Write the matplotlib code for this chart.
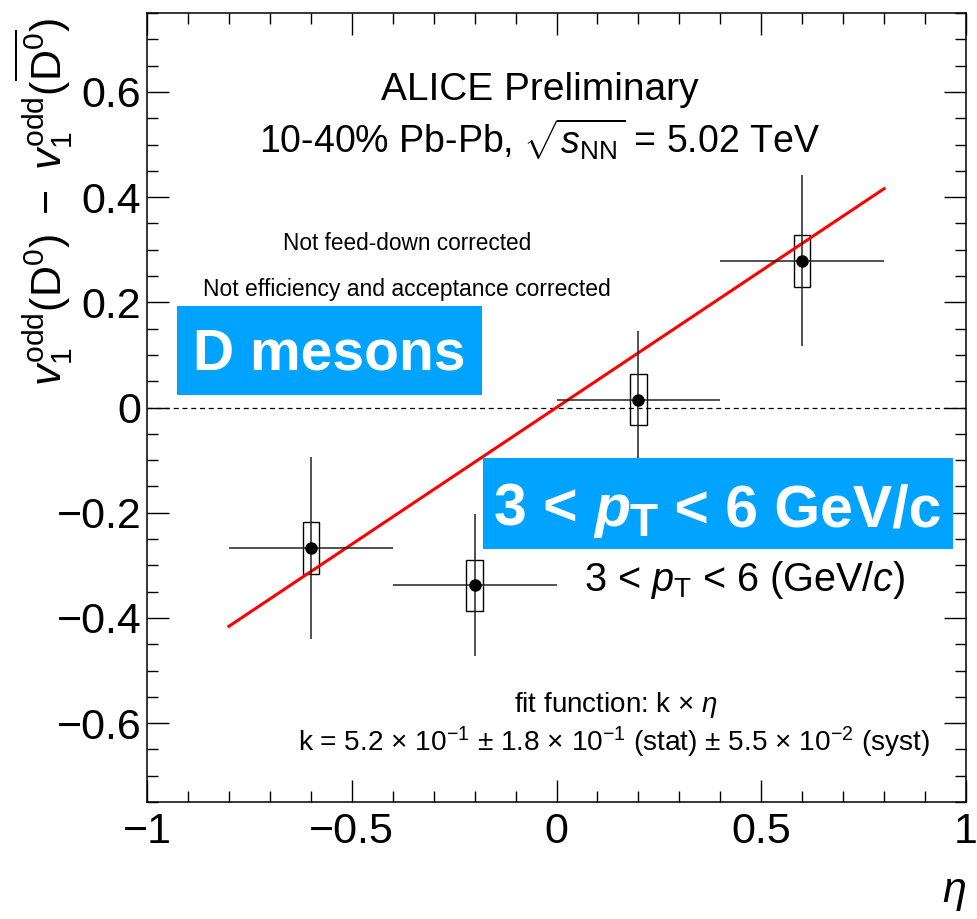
"""
D-meson directed flow difference v1(D0) - v1(D0bar) versus eta, ALICE style.
"""
import matplotlib
import matplotlib.pyplot as plt
from matplotlib.patches import Rectangle
import numpy as np

matplotlib.use('Agg')

FONT = 'Liberation Sans'
plt.rcParams['font.family'] = [FONT, 'DejaVu Sans']
plt.rcParams['mathtext.fontset'] = 'custom'
plt.rcParams['mathtext.rm'] = FONT
plt.rcParams['mathtext.it'] = FONT + ':italic'
plt.rcParams['mathtext.bf'] = FONT + ':bold'
plt.rcParams['axes.linewidth'] = 1.1

BLUE = '#00A3FF'

# measured points
eta = [-0.6, -0.2, 0.2, 0.6]
eta_err = [0.2, 0.2, 0.2, 0.2]
dv1 = [-0.267, -0.338, 0.015, 0.279]
dv1_stat = [0.173, 0.135, 0.131, 0.163]
dv1_syst = [0.049, 0.049, 0.049, 0.049]
box_half_width = 0.02

# linear fit k * eta
k_fit = 0.52
fit_range = [-0.8, 0.8]

x_ticks = [-1, -0.5, 0, 0.5, 1]
x_ticklabels = ['\u22121', '\u22120.5', '0', '0.5', '1']
y_ticks = [-0.6, -0.4, -0.2, 0, 0.2, 0.4, 0.6]
y_ticklabels = ['\u22120.6', '\u22120.4', '\u22120.2', '0', '0.2', '0.4', '0.6']

W, H = 977, 919
fig = plt.figure(figsize=(W / 100, H / 100), dpi=100)


def fx(px):
    return px / W


def fy(py):
    return 1 - py / H


ax = fig.add_axes([fx(147), fy(802), fx(966) - fx(147), fy(13) - fy(802)])
ax.set_xlim(-1, 1)
ax.set_ylim(-0.75, 0.75)

# zero reference
ax.axhline(0, color='black', lw=0.9, ls=(0, (4, 3)), zorder=1)

# fit line
xf = np.array(fit_range)
ax.plot(xf, k_fit * xf, color='#FF0000', lw=2.2, zorder=3)

# systematic boxes
for x, y, s in zip(eta, dv1, dv1_syst):
    ax.add_patch(Rectangle((x - box_half_width, y - s), 2 * box_half_width, 2 * s,
                           fill=False, edgecolor='black', lw=1.0, zorder=2))

# statistical errors and points
ax.errorbar(eta, dv1, xerr=eta_err, yerr=dv1_stat, fmt='o', color='black',
            ecolor='#222222', elinewidth=1.1, capsize=0, markersize=8, zorder=4)

ax.set_xticks(x_ticks)
ax.set_xticklabels(x_ticklabels)
ax.set_yticks(y_ticks)
ax.set_yticklabels(y_ticklabels)
ax.set_xticks(np.arange(-1, 1.001, 0.1), minor=True)
ax.set_yticks(np.arange(-0.75, 0.751, 0.05), minor=True)
ax.tick_params(which='both', direction='in', top=True, right=True, width=1.0)
ax.tick_params(which='major', length=16)
ax.tick_params(which='minor', length=8)
ax.tick_params(axis='x', which='major', labelsize=31, pad=7)
ax.tick_params(axis='y', which='major', labelsize=31, pad=4)

# axis titles
fig.text(fx(44), fy(202), r'$v_{1}^{\mathrm{odd}}(\mathrm{D}^{0})\ -\ v_{1}^{\mathrm{odd}}(\overline{\mathrm{D}^{0}})$',
         rotation=90, ha='center', va='center', fontsize=31)
fig.text(fx(966), fy(893), r'$\eta$', ha='right', va='center', fontsize=31)

# headers
fig.text(fx(540), fy(90), 'ALICE Preliminary', ha='center', va='center', fontsize=28)
fig.text(fx(540), fy(140), r'10-40% Pb-Pb, $\sqrt{s_{\mathrm{NN}}}$ = 5.02 TeV',
         ha='center', va='center', fontsize=27)
fig.text(fx(407), fy(243), 'Not feed-down corrected', ha='center', va='center', fontsize=16.3)
fig.text(fx(407), fy(289), 'Not efficiency and acceptance corrected',
         ha='center', va='center', fontsize=16.5)

# kinematic range and fit result
fig.text(fx(745), fy(580), r'3 < $p_{\mathrm{T}}$ < 6 (GeV/$c$)',
         ha='center', va='center', fontsize=28.5)
fig.text(fx(616), fy(705), r'fit function: k $\times$ $\eta$',
         ha='center', va='center', fontsize=20)
fig.text(fx(614), fy(742),
         r'k = 5.2 $\times$ 10$^{-1}$ $\pm$ 1.8 $\times$ 10$^{-1}$ (stat) $\pm$ 5.5 $\times$ 10$^{-2}$ (syst)',
         ha='center', va='center', fontsize=20.2)

# blue labels, drawn on top of the frame
ax.add_patch(Rectangle((fx(177), fy(395)), fx(482) - fx(177), fy(306) - fy(395),
                       transform=fig.transFigure, facecolor=BLUE, edgecolor='none',
                       zorder=5, clip_on=False))
ax.text(fx(329), fy(355), 'D mesons', transform=fig.transFigure, ha='center', va='center',
        color='white', fontsize=41, fontweight='bold', zorder=6, clip_on=False)

ax.add_patch(Rectangle((fx(483), fy(549)), fx(953) - fx(483), fy(458) - fy(549),
                       transform=fig.transFigure, facecolor=BLUE, edgecolor='none',
                       zorder=5, clip_on=False))
box_txt = dict(color='white', fontweight='bold', zorder=6, annotation_clip=False)
t1 = ax.text(fx(494), fy(526), '3 < ', transform=fig.transFigure, color='white',
             fontsize=42.5, fontweight='bold', ha='left', va='baseline', zorder=6, clip_on=False)
t2 = ax.annotate('p', xy=(1, 0), xycoords=t1, fontsize=42.5, style='italic',
                 ha='left', va='bottom', **box_txt)
t3 = ax.annotate('T', xy=(1, 0), xycoords=(t2, t1), xytext=(0, -6),
                 textcoords='offset points', fontsize=33, ha='left', va='bottom', **box_txt)
t4 = ax.annotate(' < 6 GeV/c', xy=(1, 0), xycoords=(t3, t1), fontsize=42.5,
                 ha='left', va='bottom', **box_txt)

fig.savefig('out.png', dpi=100)
